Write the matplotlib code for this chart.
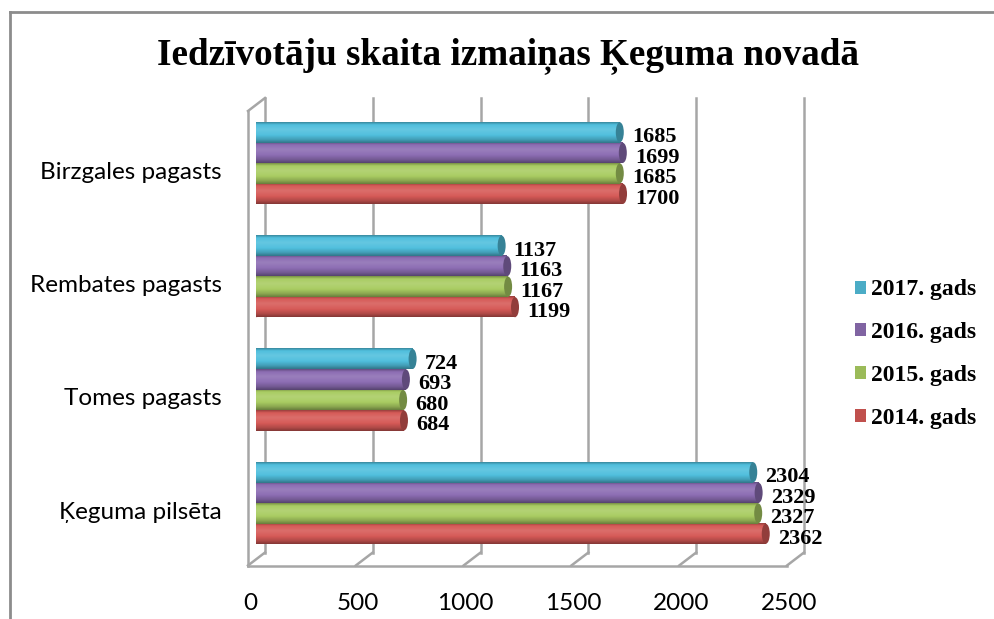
import matplotlib
matplotlib.use('Agg')
import matplotlib.pyplot as plt
import numpy as np
from matplotlib.patches import Ellipse, Patch
from matplotlib.lines import Line2D

categories = ['Ķeguma pilsēta', 'Tomes pagasts', 'Rembates pagasts', 'Birzgales pagasts']
series_names = ['2014. gads', '2015. gads', '2016. gads', '2017. gads']
values_2014 = [2362, 684, 1199, 1700]
values_2015 = [2327, 680, 1167, 1685]
values_2016 = [2329, 693, 1163, 1699]
values_2017 = [2304, 724, 1137, 1685]
x_ticks = [0, 500, 1000, 1500, 2000, 2500]
title = 'Iedzīvotāju skaita izmaiņas Ķeguma novadā'
colors = ['#C0504D', '#9BBB59', '#8064A2', '#4BACC6']
bar_colors = ['#D65A57', '#A9CC62', '#8C6DB3', '#50BFDD']

series_values = [values_2014, values_2015, values_2016, values_2017]

W, H = 995, 619
fig = plt.figure(figsize=(W / 100, H / 100), dpi=100)
fig.patch.set_facecolor('white')

# mid-depth plane of the 3D box in pixels
x0p, x1p = 256.5, 795.5
ytop, ybot = 104.5, 559.0
ax = fig.add_axes([x0p / W, (H - ybot) / H, (x1p - x0p) / W, (ybot - ytop) / H])
ax.axis('off')
ylo, yhi = -0.494, 3.517
xmax = 2500

ppx = (x1p - x0p) / xmax
ppy = (ybot - ytop) / (yhi - ylo)
ddx = 8.5 / ppx   # depth offset in data units
ddy = 6.5 / ppy

grid_c = '#A6A6A6'
lw = 1.8
# back wall gridlines
for t in x_ticks:
    ax.plot([t + ddx, t + ddx], [ylo + ddy, yhi + ddy], color=grid_c, lw=lw, clip_on=False, zorder=1)
    # floor diagonals
    ax.plot([t + ddx, t - ddx], [ylo + ddy, ylo - ddy], color=grid_c, lw=lw, clip_on=False, zorder=1)
# front floor edge
ax.plot([-ddx, xmax - ddx], [ylo - ddy, ylo - ddy], color=grid_c, lw=lw, clip_on=False, zorder=1)
# left wall front edge and top
ax.plot([-ddx, -ddx], [ylo - ddy, yhi - ddy], color=grid_c, lw=lw, clip_on=False, zorder=1)
ax.plot([-ddx, ddx], [yhi - ddy, yhi + ddy], color=grid_c, lw=lw, clip_on=False, zorder=1)

h = 0.181
offs = [-1.5 * h, -0.5 * h, 0.5 * h, 1.5 * h]
cap_w = 8.0 / ppx


def shade(c, f):
    c = np.array(matplotlib.colors.to_rgb(c))
    if f >= 1:
        return c + (1 - c) * (f - 1)
    return c * f


for s, (vals, bc) in enumerate(zip(series_values, bar_colors)):
    stops = [(0.0, 0.72), (0.12, 1.0), (0.35, 1.12), (0.6, 1.02), (0.85, 0.82), (1.0, 0.62)]
    n = 40
    pos = np.linspace(0, 1, n)
    fs = np.interp(pos, [p for p, _ in stops], [f for _, f in stops])
    grad = np.array([shade(bc, f) for f in fs]).reshape(n, 1, 3)
    grad = np.clip(grad, 0, 1)
    for i, v in enumerate(vals):
        yc = i + offs[s]
        ax.add_patch(Ellipse((0, yc), cap_w, h * 0.98, facecolor=shade(bc, 0.95),
                             edgecolor='none', zorder=2.9))
        ax.imshow(grad, extent=(0, v, yc - h / 2, yc + h / 2), aspect='auto',
                  origin='upper', interpolation='bilinear', zorder=3)
        ax.add_patch(Ellipse((v, yc), cap_w, h * 0.98, facecolor=shade(bc, 0.68),
                             edgecolor='none', zorder=4))
        ax.annotate(str(v), xy=(v, yc), xytext=(12, -5), textcoords='offset pixels',
                    ha='left', va='center', fontfamily='Liberation Serif',
                    fontweight='bold', fontsize=16, zorder=5)

# category labels
for i, cat in enumerate(categories):
    ax.annotate(cat, xy=(0, i), xytext=(222 - x0p, -9), textcoords='offset pixels',
                ha='right', va='center', fontfamily='Lato', fontsize=17.5)

# x tick labels at front
for t in x_ticks:
    ax.annotate(str(t), xy=(t, ylo), xytext=(-6.5, -44), textcoords='offset pixels',
                ha='center', va='center', fontfamily='Lato', fontsize=17.5)

ax.set_xlim(0, xmax)
ax.set_ylim(ylo, yhi)

fig.text(508 / W, 1 - 56 / H, title, ha='center', va='center',
         fontfamily='Liberation Serif', fontweight='bold', fontsize=26.7)

handles = [Patch(facecolor=c, edgecolor='none') for c in colors[::-1]]
fig.legend(handles, series_names[::-1], loc='center left',
           bbox_to_anchor=(855 / W, 1 - 354 / H), frameon=False,
           prop=dict(family='Liberation Serif', weight='bold', size=17),
           handlelength=0.47, handleheight=0.47, handletextpad=0.22,
           labelspacing=0.92, borderpad=0, borderaxespad=0)

# outer border (top and left)
bc_ = '#8C8C8C'
fig.add_artist(Line2D([10 / W, 1.0], [1 - 12 / H, 1 - 12 / H], transform=fig.transFigure, color=bc_, lw=2))
fig.add_artist(Line2D([10 / W, 10 / W], [1 - 12 / H, 0], transform=fig.transFigure, color=bc_, lw=2))

fig.savefig('out.png', dpi=100)
